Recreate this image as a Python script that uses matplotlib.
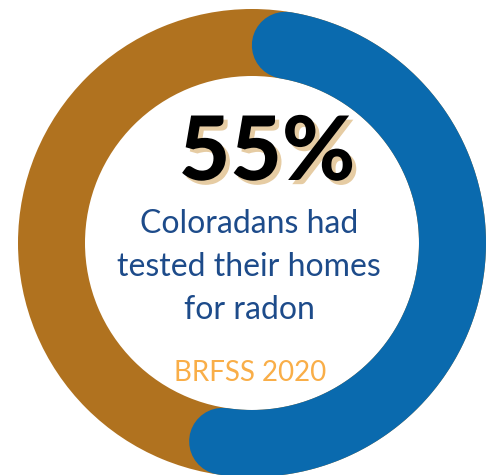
import numpy as np
import matplotlib.pyplot as plt
import matplotlib.patheffects as pe
from matplotlib.patches import Wedge

# datos
pct = 55
big_label = "55%"
lines = ["Coloradans had", "tested their homes", "for radon"]
source = "BRFSS 2020"

brown = "#B0721F"
blue = "#0A6AAE"
navy = "#1D4B8A"
orange = "#F9AE48"
tan = "#E6CCA3"

W, H = 496, 475
fig = plt.figure(figsize=(W / 100, H / 100), dpi=100)
ax = fig.add_axes([0, 0, 1, 1])
ax.set_xlim(0, W)
ax.set_ylim(H, 0)
ax.axis("off")

cx, cy = 252, 243
R, width = 234, 67
rmid = R - width / 2

# anillo de fondo
ax.add_patch(Wedge((cx, cy), R, 0, 360, width=width, color=brown, lw=0))

# arco azul con extremos redondeados (el total incluye los extremos)
total = pct / 100 * 360
cap = np.degrees((width / 2) / rmid)
ang = np.radians(np.linspace(cap, total - cap, 300))
xs = cx + rmid * np.sin(ang)
ys = cy - rmid * np.cos(ang)
lw_pt = width * 72 / 100
ax.plot(xs, ys, color=blue, lw=lw_pt, solid_capstyle="round")

# textos
sombra = [pe.SimplePatchShadow(offset=(3, -3), shadow_rgbFace=tan, alpha=1),
          pe.Normal()]
ax.text(267, 154, big_label, fontsize=64, family="Lato", weight="black",
        color="black", ha="center", va="center", path_effects=sombra)
for i, t in enumerate(lines):
    ax.text(249, 224 + i * 43, t, fontsize=23, family="Lato",
            color=navy, ha="center", va="center")
ax.text(250, 373, source, fontsize=20, family="Lato", color=orange,
        ha="center", va="center")

fig.savefig("out.png", dpi=100)
